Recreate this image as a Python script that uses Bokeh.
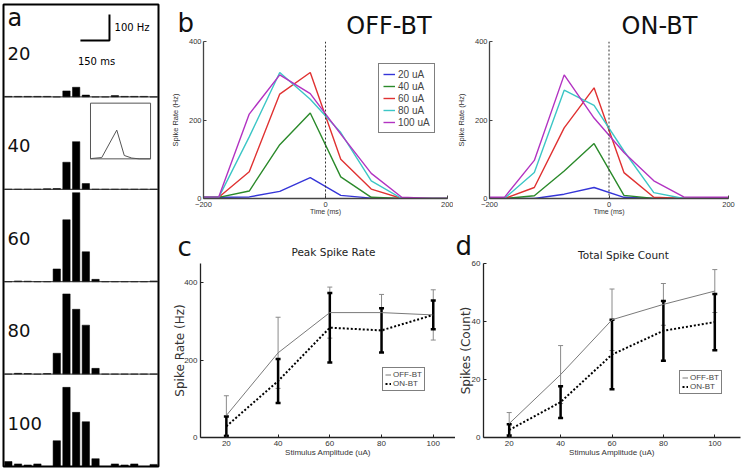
from bokeh.plotting import figure
from bokeh.models import (Range1d, Legend, LegendItem, ColumnDataSource, GridBox,
                          Whisker, TeeHead, Span, FixedTicker)
from bokeh.layouts import row, column
from bokeh.embed import file_html
from bokeh.resources import INLINE
from bokeh.core.properties import value

# ---------------- data ----------------
# panel a : example PSTHs (Hz), 50 ms bins from -400 to 400 ms
amp_labels = ["20", "40", "60", "80", "100"]
bin_centers = [-375, -325, -275, -225, -175, -125, -75, -25, 25, 75, 125, 175, 225, 275, 325, 375]
hist_20 = [2, 2, 2, 2, 2, 0, 23, 37, 7, 0, 0, 5, 2, 2, 2, 0]
hist_40 = [0, 0, 0, 0, 2, 3, 104, 183, 22, 0, 0, 0, 0, 0, 0, 0]
hist_60 = [0, 3, 2, 0, 0, 49, 238, 342, 115, 9, 0, 0, 0, 0, 0, 3]
hist_80 = [0, 3, 2, 0, 2, 80, 308, 249, 188, 22, 0, 0, 0, 0, 0, 0]
hist_100 = [19, 10, 6, 10, 0, 99, 304, 208, 172, 30, 0, 10, 6, 10, 0, 8]
inset_t = [-200, -190, -125, -25, 25, 75, 125, 200]
inset_v = [0, 3, 10, 222, 26, 6, 0, 0]
scale_ms = 150
scale_hz = 100

# panel b : mean spike rate (Hz) vs time (ms)
time_ms = [-225, -175, -125, -75, -25, 25, 75, 125, 175, 225]
series_labels = ["20 uA", "40 uA", "60 uA", "80 uA", "100 uA"]
off_20 = [3, 3, 4, 18, 53, 8, 1, 0, 0, 0]
off_40 = [3, 3, 19, 137, 218, 55, 3, 0, 0, 0]
off_60 = [3, 3, 68, 266, 321, 100, 24, 0, 0, 0]
off_80 = [3, 3, 157, 321, 253, 168, 45, 0, 0, 0]
off_100 = [3, 4, 215, 315, 267, 164, 64, 3, 0, 0]
on_20 = [0, 0, 0, 11, 28, 3, 0, 0, 0, 0]
on_40 = [0, 0, 7, 70, 140, 8, 0, 0, 0, 0]
on_60 = [0, 0, 28, 180, 282, 66, 3, 0, 0, 0]
on_80 = [0, 0, 66, 276, 237, 121, 15, 0, 0, 0]
on_100 = [3, 3, 97, 315, 205, 117, 45, 4, 3, 3]

# panels c, d
amps = [20, 40, 60, 80, 100]
peak_off = [57, 219, 323, 323, 317]
peak_off_err = [51, 92, 66, 47, 65]
peak_on = [29, 146, 284, 277, 317]
peak_on_err = [25, 57, 90, 57, 37]
count_off = [4.8, 21.7, 40.6, 45.9, 50.5]
count_off_err = [3.8, 10.0, 10.6, 7.2, 7.4]
count_on = [2.6, 12.2, 28.6, 36.8, 39.8]
count_on_err = [2.0, 5.5, 12.0, 10.3, 9.7]

panel_letters = ["b", "c", "d"]
panel_titles = ["OFF-BT", "ON-BT", "Peak Spike Rate", "Total Spike Count"]

series_colors = ["#3535d8", "#2b8a2b", "#e03232", "#3cc6c6", "#b233c2"]
DV = "DejaVu Sans"
LS = "Liberation Sans"


def base_fig(width, height, xr, yr, ml, mr, mt, mb, axes=True):
    kw = {}
    if not axes:
        kw = dict(x_axis_location=None, y_axis_location=None)
    p = figure(width=width, height=height, x_range=Range1d(*xr), y_range=Range1d(*yr),
               toolbar_location=None, output_backend="svg",
               min_border_left=ml, min_border_right=mr, min_border_top=mt, min_border_bottom=mb,
               background_fill_color="white", border_fill_color="white", **kw)
    p.grid.grid_line_color = None
    p.outline_line_color = None
    return p


def style_axes(p, tick_font_size, xlabel, ylabel, xlab_font, xlab_size, ylab_font, ylab_size,
               xstand, ystand, axis_color):
    for ax in (p.xaxis[0], p.yaxis[0]):
        ax.axis_line_color = axis_color
        ax.axis_line_width = 1.3
        ax.major_tick_in = 3
        ax.major_tick_out = 0
        ax.major_tick_line_color = axis_color
        ax.minor_tick_line_color = None
        ax.major_label_text_font = LS
        ax.major_label_text_font_size = tick_font_size
        ax.major_label_text_color = "#333333"
        ax.major_label_standoff = 3
        ax.axis_label_text_font_style = "normal"
        ax.axis_label_text_color = "#333333"
    p.xaxis.axis_label = xlabel
    p.yaxis.axis_label = ylabel
    p.xaxis.axis_label_text_font = xlab_font
    p.xaxis.axis_label_text_font_size = xlab_size
    p.yaxis.axis_label_text_font = ylab_font
    p.yaxis.axis_label_text_font_size = ylab_size
    p.xaxis.axis_label_standoff = xstand
    p.yaxis.axis_label_standoff = ystand


# ---------------- panel a ----------------
PANEL = 355
hists = [hist_20, hist_40, hist_60, hist_80, hist_100]
fa = base_fig(163, 465, (-400, 400), (0, 5 * PANEL), 1, 7, 1, 2, axes=False)
fa.outline_line_color = "black"
fa.outline_line_width = 2
for k, h in enumerate(hists):
    base = (4 - k) * PANEL
    fa.vbar(x=bin_centers, width=38, bottom=base, top=[base + v for v in h],
            fill_color="black", line_color="black", line_width=0.5)
for k in range(1, 5):
    fa.add_layout(Span(location=k * PANEL, dimension="width", line_color="#222222", line_width=1))
fa.text(x=[-379] * 5, y=[(4 - k) * PANEL + 167 for k in range(5)], text=amp_labels,
        text_font=value(DV), text_font_size="18px", text_baseline="middle", text_align="left",
        text_color="#111111")
fa.text(x=[-379], y=[1725], text=["a"], text_font=value(DV), text_font_size="24px",
        text_baseline="middle", text_align="left", text_color="#111111")
# inset
IN_X0, IN_X1, IN_Y0, IN_Y1, IN_VMAX = 49, 359, 1182, 1396, 430
fa.quad(left=[IN_X0], right=[IN_X1], bottom=[IN_Y0], top=[IN_Y1], fill_color="white",
        line_color="#555555", line_width=1)
fa.line(x=[IN_X0 + (t + 200) / 400 * (IN_X1 - IN_X0) for t in inset_t],
        y=[IN_Y0 + v / IN_VMAX * (IN_Y1 - IN_Y0) for v in inset_v],
        line_color="#555555", line_width=1)
# scale bar
SB_X, SB_Y = -3, 1637
fa.line(x=[SB_X, SB_X + scale_ms, SB_X + scale_ms], y=[SB_Y, SB_Y, SB_Y + scale_hz],
        line_color="black", line_width=2)
fa.text(x=[SB_X + scale_ms + 26], y=[SB_Y + scale_hz / 2], text=["%d Hz" % scale_hz],
        text_font=value(DV), text_font_size="10px", text_baseline="middle", text_align="left")
fa.text(x=[SB_X + scale_ms / 2 + 8], y=[SB_Y - 81], text=["%d ms" % scale_ms],
        text_font=value(DV), text_font_size="10px", text_baseline="middle", text_align="center")


# ---------------- panel b ----------------
def make_b(series, width, ml, mr, legend=False):
    p = base_fig(width, 222, (-200, 200), (0, 400), ml, mr, 38, 27)
    style_axes(p, "7.5px", "Time (ms)", "Spike Rate (Hz)", LS, "7px", LS, "7.5px", -2, 6, "#444444")
    p.xaxis.ticker = FixedTicker(ticks=[-200, 0, 200])
    p.yaxis.ticker = FixedTicker(ticks=[0, 200, 400])
    p.xaxis.major_label_standoff = 3
    p.yaxis.major_label_standoff = 2
    p.add_layout(Span(location=0, dimension="height", line_color="#333333", line_width=1,
                      line_dash="2 2"))
    rs = []
    for vals, col in zip(series, series_colors):
        rs.append(p.line(time_ms, vals, line_color=col, line_width=1.4))
    if legend:
        lg = Legend(items=[LegendItem(label=lab, renderers=[r]) for lab, r in zip(series_labels, rs)],
                    location=(175, 65), border_line_color="black", border_line_width=1,
                    background_fill_color="white", background_fill_alpha=1,
                    label_text_font=LS, label_text_font_size="10px",
                    glyph_width=12, glyph_height=12, label_height=12, spacing=0,
                    padding=4, margin=0, label_standoff=3)
        p.add_layout(lg)
    return p


fb1 = make_b([off_20, off_40, off_60, off_80, off_100], 288, 38, 6, legend=True)
fb2 = make_b([on_20, on_40, on_60, on_80, on_100], 294, 30, 19)


# ---------------- panels c, d ----------------
def make_cd(off, off_err, on, on_err, width, ml, mr, mt, mb, xend, ymax, yticks,
            ylabel, ystand, leg_loc):
    p = base_fig(width, 243, (10, xend), (0, ymax), ml, mr, mt, mb)
    style_axes(p, "8px", "Stimulus Amplitude (uA)", ylabel, LS, "8px", DV, "12px", -1, ystand,
               "#222222")
    p.xaxis.ticker = FixedTicker(ticks=amps)
    p.yaxis.ticker = FixedTicker(ticks=yticks)
    r_off = p.line(amps, off, line_color="#7a7a7a", line_width=1)
    r_on = p.line(amps, on, line_color="black", line_width=2, line_dash="2 2")
    s_off = ColumnDataSource(dict(x=amps, upper=[v + e for v, e in zip(off, off_err)],
                                  lower=[v - e for v, e in zip(off, off_err)]))
    s_on = ColumnDataSource(dict(x=amps, upper=[v + e for v, e in zip(on, on_err)],
                                 lower=[v - e for v, e in zip(on, on_err)]))
    p.add_layout(Whisker(source=s_off, base="x", upper="upper", lower="lower",
                         line_color="#8a8a8a", line_width=1,
                         upper_head=TeeHead(size=5, line_color="#8a8a8a", line_width=1),
                         lower_head=TeeHead(size=5, line_color="#8a8a8a", line_width=1)))
    p.add_layout(Whisker(source=s_on, base="x", upper="upper", lower="lower",
                         line_color="black", line_width=2.5,
                         upper_head=TeeHead(size=5, line_color="black", line_width=2.5),
                         lower_head=TeeHead(size=5, line_color="black", line_width=2.5)))
    lg = Legend(items=[LegendItem(label="OFF-BT", renderers=[r_off]),
                       LegendItem(label="ON-BT", renderers=[r_on])],
                location=leg_loc, border_line_color="black", border_line_width=1,
                background_fill_color="white", background_fill_alpha=1,
                label_text_font=LS, label_text_font_size="8px",
                glyph_width=6, glyph_height=9, label_height=9, spacing=0,
                padding=2, margin=0, label_standoff=2)
    p.add_layout(lg)
    return p


fc = make_cd(peak_off, peak_off_err, peak_on, peak_on_err, 290, 35, 0, 36, 31, 108.6, 450,
             [0, 200, 400], "Spike Rate (Hz)", -6, (182, 46))
fd = make_cd(count_off, count_off_err, count_on, count_on_err, 292, 27, 7, 38, 30, 110, 60,
             [0, 20, 40, 60], "Spikes (Count)", -4, (196, 43))

main = row(fa, column(row(fb1, fb2), row(fc, fd)))

# ---------------- transparent text overlay (panel letters and titles) ----------------
W, H = 745, 465
ov = figure(width=W, height=H, x_range=Range1d(0, W), y_range=Range1d(H, 0),
            toolbar_location=None, output_backend="svg",
            min_border_left=0, min_border_right=0, min_border_top=0, min_border_bottom=0,
            x_axis_location=None, y_axis_location=None)
ov.grid.grid_line_color = None
ov.outline_line_color = None
ov.background_fill_alpha = 0
ov.border_fill_alpha = 0
ov.text(x=[175, 175, 453], y=[19.5, 243.5, 242.5], text=panel_letters,
        text_font=value(DV), text_font_size="26px", text_align="left",
        text_baseline="middle", text_color="#111111")
ov.text(x=[386.5, 657], y=[22, 22], text=panel_titles[:2],
        text_font=value(DV), text_font_size="24px", text_align="center",
        text_baseline="middle", text_color="#111111")
ov.text(x=[331, 621], y=[248, 251], text=panel_titles[2:],
        text_font=value(DV), text_font_size="10.5px", text_align="center",
        text_baseline="middle", text_color="#222222")

layout = GridBox(children=[(main, 0, 0), (ov, 0, 0)])
layout.styles = {"margin-left": "2px", "margin-top": "3px"}

open("out.html", "w").write(file_html(layout, INLINE))
